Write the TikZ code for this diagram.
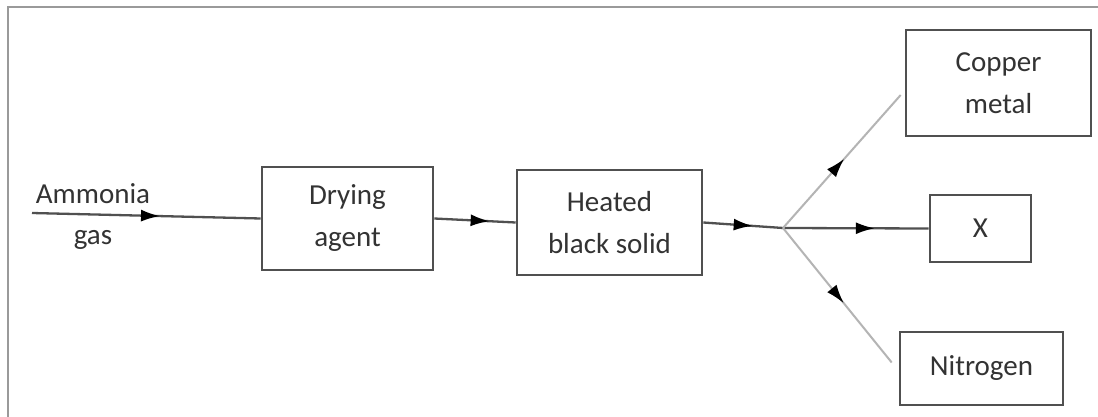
\documentclass[tikz,border=0pt]{standalone}
\usepackage{fontspec}
\setmainfont{Carlito}
\usetikzlibrary{arrows.meta,decorations.markings}
\definecolor{txt}{HTML}{333333}
\definecolor{edge}{HTML}{505050}
\definecolor{lite}{HTML}{B4B4B4}
\definecolor{frame}{HTML}{9A9A9A}
\tikzset{
  box/.style={draw=edge, line width=2.6pt, inner sep=0pt, align=center, text=txt,
    font=\fontsize{29}{42}\selectfont},
  lbl/.style={inner sep=0pt, align=center, text=txt, font=\fontsize{29}{42}\selectfont},
  flow/.style={draw=edge, line width=2.3pt},
  thin/.style={draw=lite, line width=2pt},
  midarrow/.style={postaction={decorate}, decoration={markings,
    mark=at position #1 with {\arrow[black]{Latex[length=19pt,width=12pt]}}}},
}
\begin{document}
\begin{tikzpicture}[x=1pt,y=-1pt]
\useasboundingbox (0,0) rectangle (1098,417);
\fill[white] (0,0) rectangle (1098,417);
% outer frame (left and top edges)
\coordinate (fbl) at (8,417);
\coordinate (ftl) at (8,7);
\coordinate (ftr) at (1098,7);
\draw[frame, line width=2pt] (fbl) -- (ftl) -- (ftr);

\node[box, minimum width=171pt, minimum height=103pt] (dry) at (347.5,218.5) {Drying\\agent};
\node[box, minimum width=185pt, minimum height=105pt] (heat) at (609.5,222.5) {Heated\\black solid};
\node[box, minimum width=185pt, minimum height=106pt] (cu) at (998.5,83) {Copper\\metal};
\node[box, minimum width=101pt, minimum height=67pt] (x) at (980.5,228.5) {X};
\node[box, minimum width=163pt, minimum height=73pt] (ni) at (981.5,368.5) {Nitrogen};

\node[lbl, font=\fontsize{29}{41}\selectfont] (amm) at (93,217) {Ammonia\\gas};

\coordinate (start) at (32,213);
\coordinate (br) at (783,228);

\draw[flow, midarrow=0.56] (start) -- (dry.west);
\draw[flow, midarrow=0.68] (dry.east) -- (heat.west);
\draw[flow, midarrow=0.62] (heat.east) -- (br);
\draw[flow, midarrow=0.63] (br) -- (x.west);
\draw[thin, midarrow=0.52] (br) -- ([xshift=-4pt,yshift=-12pt]cu.west);
\draw[thin, midarrow=0.56] (br) -- ([xshift=-7pt,yshift=6pt]ni.west);
\end{tikzpicture}
\end{document}
